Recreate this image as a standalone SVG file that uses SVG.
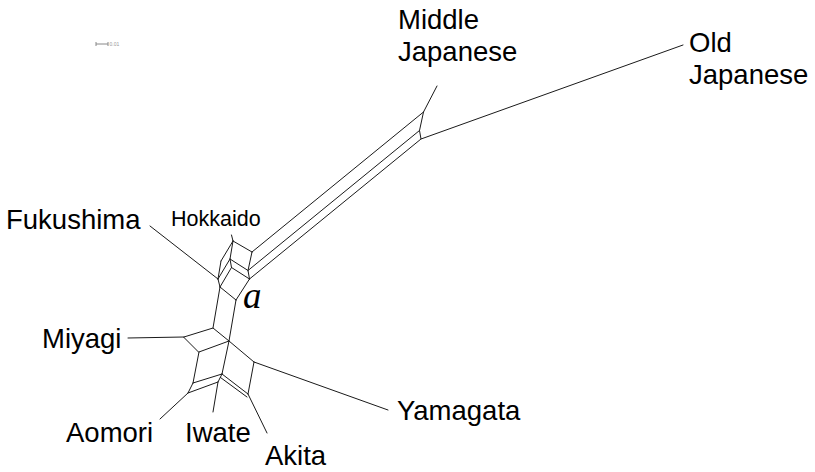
<svg xmlns="http://www.w3.org/2000/svg" width="815" height="472" viewBox="0 0 815 472">
  <style>
    .edge { stroke: #1a1a1a; stroke-width: 1; fill: none; stroke-linecap: round; }
    .lbl { font-family: "Liberation Sans", Arial, sans-serif; font-size: 27.5px; fill: #000; }
    .small { font-size: 21.5px; }
    .mark { font-family: "Liberation Serif", "Times New Roman", serif; font-style: italic; font-size: 37px; fill: #000; }
    .scale { stroke: #888; stroke-width: 1; }
    .scaletext { font-family: "Liberation Sans", Arial, sans-serif; font-size: 5px; fill: #999; }
  </style>
  <rect width="815" height="472" fill="#fff"/>

  <!-- scale bar -->
  <g id="scale-bar">
    <line class="scale" x1="96" y1="44" x2="108" y2="44"/>
    <line class="scale" x1="96" y1="42" x2="96" y2="46"/>
    <line class="scale" x1="108" y1="42" x2="108" y2="46"/>
    <text class="scaletext" x="109.5" y="46">0.01</text>
  </g>

  <!-- splits network edges -->
  <g id="connectors">
    <!-- Middle / Old Japanese end of the long split -->
    <path class="edge" d="M437,86 L423.5,112 L419.5,130.5 L421,139 L683,45"/>
    <line class="edge" x1="423.5" y1="112" x2="252" y2="252"/>
    <line class="edge" x1="419.5" y1="130.5" x2="248" y2="270.5"/>
    <line class="edge" x1="421" y1="139" x2="249.5" y2="279"/>

    <!-- Hokkaido / Fukushima box -->
    <path class="edge" d="M252,252 L248,270.5 L249.5,279"/>
    <line class="edge" x1="231.5" y1="235" x2="233" y2="241"/>
    <line class="edge" x1="233" y1="241" x2="252" y2="252"/>
    <path class="edge" d="M233,241 L230,259 L231.5,267.5"/>
    <line class="edge" x1="230" y1="259" x2="248" y2="270.5"/>
    <line class="edge" x1="231.5" y1="267.5" x2="249.5" y2="279"/>
    <line class="edge" x1="233" y1="241" x2="221" y2="261"/>
    <line class="edge" x1="221" y1="261" x2="218" y2="279"/>
    <line class="edge" x1="230" y1="259" x2="218" y2="279"/>
    <line class="edge" x1="231.5" y1="267.5" x2="220" y2="287"/>
    <line class="edge" x1="218" y1="279" x2="220" y2="287"/>
    <line class="edge" x1="150" y1="226" x2="218" y2="279"/>
    <line class="edge" x1="249.5" y1="279" x2="236" y2="300"/>
    <line class="edge" x1="220" y1="287" x2="236" y2="300"/>

    <!-- Miyagi box -->
    <line class="edge" x1="220" y1="287" x2="213" y2="328"/>
    <line class="edge" x1="236" y1="300" x2="229" y2="341"/>
    <line class="edge" x1="128" y1="338" x2="184" y2="337"/>
    <path class="edge" d="M184,337 L213,328 L229,341 L199,352 Z"/>

    <!-- Yamagata / Akita / Iwate / Aomori -->
    <line class="edge" x1="229" y1="341" x2="254" y2="362"/>
    <line class="edge" x1="254" y1="362" x2="388" y2="410"/>
    <line class="edge" x1="254" y1="362" x2="248" y2="394"/>
    <line class="edge" x1="229" y1="341" x2="222" y2="374"/>
    <line class="edge" x1="199" y1="352" x2="193" y2="383"/>
    <line class="edge" x1="193" y1="383" x2="222" y2="374"/>
    <line class="edge" x1="193" y1="383" x2="188" y2="393"/>
    <line class="edge" x1="188" y1="393" x2="218" y2="382"/>
    <line class="edge" x1="218" y1="382" x2="222" y2="374"/>
    <line class="edge" x1="222" y1="374" x2="248" y2="394"/>
    <line class="edge" x1="220.5" y1="377.5" x2="247" y2="397"/>
    <line class="edge" x1="218" y1="382" x2="213" y2="412"/>
    <line class="edge" x1="188" y1="393" x2="160" y2="419"/>
    <line class="edge" x1="248" y1="394" x2="267" y2="433"/>
  </g>

  <!-- taxa -->
  <g id="middle-japanese">
    <text class="lbl" x="398" y="29">Middle</text>
    <text class="lbl" x="398" y="61">Japanese</text>
  </g>
  <g id="old-japanese">
    <text class="lbl" x="689" y="52">Old</text>
    <text class="lbl" x="689" y="84">Japanese</text>
  </g>
  <g id="fukushima">
    <text class="lbl" x="6" y="229">Fukushima</text>
  </g>
  <g id="hokkaido">
    <text class="lbl small" x="171" y="226">Hokkaido</text>
  </g>
  <g id="point-a">
    <text class="mark" x="243" y="308">a</text>
  </g>
  <g id="miyagi">
    <text class="lbl" x="42" y="348">Miyagi</text>
  </g>
  <g id="aomori">
    <text class="lbl" x="66" y="442">Aomori</text>
  </g>
  <g id="iwate">
    <text class="lbl" x="185" y="442">Iwate</text>
  </g>
  <g id="akita">
    <text class="lbl" x="265" y="465">Akita</text>
  </g>
  <g id="yamagata">
    <text class="lbl" x="397" y="420">Yamagata</text>
  </g>
</svg>
